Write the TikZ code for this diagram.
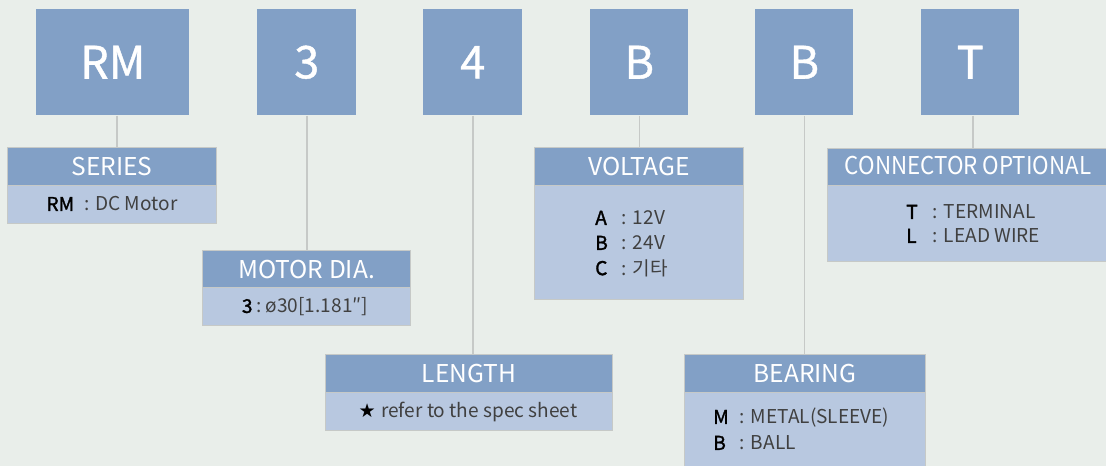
\documentclass[tikz,border=0pt]{standalone}
\usepackage{fontspec}
\setmainfont{Noto Sans CJK KR}
\newfontfamily\keyfont{Noto Sans CJK KR}[FakeBold=1.6]
\newfontfamily\bigfont{Noto Sans CJK KR}[FakeBold=0.9]
\newfontfamily\symfont{DejaVu Sans}
\definecolor{bgc}{HTML}{E9EEEA}
\definecolor{hdc}{HTML}{82A0C6}
\definecolor{bdc}{HTML}{B8C8E0}
\definecolor{lnc}{HTML}{C6C9C7}
\definecolor{txc}{HTML}{404040}
\newcommand\kv[2]{\makebox[20pt][l]{\keyfont\color{black}#1}\makebox[8.25pt][l]{:}#2}
\begin{document}
\begin{tikzpicture}[x=0.75pt,y=-0.75pt,
  topbox/.style={fill=hdc,text=white,inner sep=0,anchor=north west,minimum height=106*0.75pt,font=\bigfont\fontsize{33.8}{36}\selectfont},
  hdr/.style={fill=hdc,draw=lnc,line width=0.8pt,text=white,inner sep=0,anchor=north west,font=\fontsize{18.4}{20}\selectfont},
  bdy/.style={fill=bdc,draw=lnc,line width=0.8pt,inner sep=0,anchor=north west},
  txt/.style={text=txc,inner sep=0,font=\fontsize{14.3}{18}\selectfont},
  link/.style={draw=lnc,line width=1.1pt}]
\fill[bgc] (0,0) rectangle (1106,466);
\useasboundingbox (0,0) rectangle (1106,466);
% top code boxes
\node[topbox,minimum width=153*0.75pt] (rm) at (36,9) {RM};
\node[topbox,minimum width=99*0.75pt] (c3) at (257,9) {3};
\node[topbox,minimum width=99*0.75pt] (c4) at (423,9) {4};
\node[topbox,minimum width=98*0.75pt] (cb1) at (590,9) {B};
\node[topbox,minimum width=98*0.75pt] (cb2) at (755,9) {B};
\node[topbox,minimum width=98*0.75pt] (ct) at (921,9) {T};
% series
\node[bdy,minimum width=209*0.75pt,minimum height=38*0.75pt] (serB) at (7,185) {};
\node[hdr,minimum width=209*0.75pt,minimum height=38*0.75pt] (serH) at (7,147) {SERIES};
\node[txt] (serT) at (112,204) {{\keyfont\color{black}RM}\hspace{8pt}:\hspace{4pt}DC Motor};
% motor dia
\node[bdy,minimum width=208*0.75pt,minimum height=38*0.75pt] (diaB) at (202,287) {};
\node[hdr,minimum width=208*0.75pt,minimum height=37*0.75pt] (diaH) at (202,250) {MOTOR DIA.};
\node[txt] (diaT) at (305,307) {{\keyfont\color{black}3}\hspace{3pt}:\hspace{3pt}ø30[1.181″]};
% length
\node[bdy,minimum width=287*0.75pt,minimum height=38*0.75pt] (lenB) at (325,392) {};
\node[hdr,minimum width=287*0.75pt,minimum height=38*0.75pt] (lenH) at (325,354) {LENGTH};
\node[txt] (lenT) at (468,412) {{\symfont\color{black}★}\hspace{4pt}refer to the spec sheet};
% voltage
\node[bdy,minimum width=209*0.75pt,minimum height=114*0.75pt] (volB) at (534,185) {};
\node[hdr,minimum width=209*0.75pt,minimum height=38*0.75pt] (volH) at (534,147) {VOLTAGE};
\node[txt,anchor=west] (volA) at (595,218) {\kv{A}{12V}};
\node[txt,anchor=west] (volBt) at (595,243) {\kv{B}{24V}};
\node[txt,anchor=west] (volC) at (595,268) {\kv{C}{기타}};
% bearing
\node[bdy,minimum width=241*0.75pt,minimum height=80*0.75pt] (berB) at (684,392) {};
\node[hdr,minimum width=241*0.75pt,minimum height=38*0.75pt] (berH) at (684,354) {BEARING};
\node[txt,anchor=west] (berM) at (713,418) {\kv{M}{METAL(SLEEVE)}};
\node[txt,anchor=west] (berBt) at (713,443) {\kv{B}{BALL}};
% connector
\node[bdy,minimum width=282*0.75pt,minimum height=76*0.75pt] (conB) at (827,185) {};
\node[hdr,minimum width=282*0.75pt,minimum height=37*0.75pt] (conH) at (827,148) {};
\node[text=white,inner sep=0,font=\fontsize{18.4}{20}\selectfont] (conHt) at (968,166) {\scalebox{0.91}[1]{CONNECTOR OPTIONAL}};
\node[txt,anchor=west] (conT) at (906,212) {\kv{T}{TERMINAL}};
\node[txt,anchor=west] (conL) at (906,236) {\kv{L}{LEAD WIRE}};
% links
\draw[link] ([xshift=3]rm.south) -- ([xshift=3]rm.south |- serH.north);
\draw[link] (c3.south) -- (c3.south |- diaH.north);
\draw[link] (c4.south) -- (c4.south |- lenH.north);
\draw[link] (cb1.south) -- (cb1.south |- volH.north);
\draw[link] (cb2.south) -- (cb2.south |- berH.north);
\draw[link] ([xshift=2]ct.south) -- ([xshift=2]ct.south |- conH.north);
\end{tikzpicture}
\end{document}
